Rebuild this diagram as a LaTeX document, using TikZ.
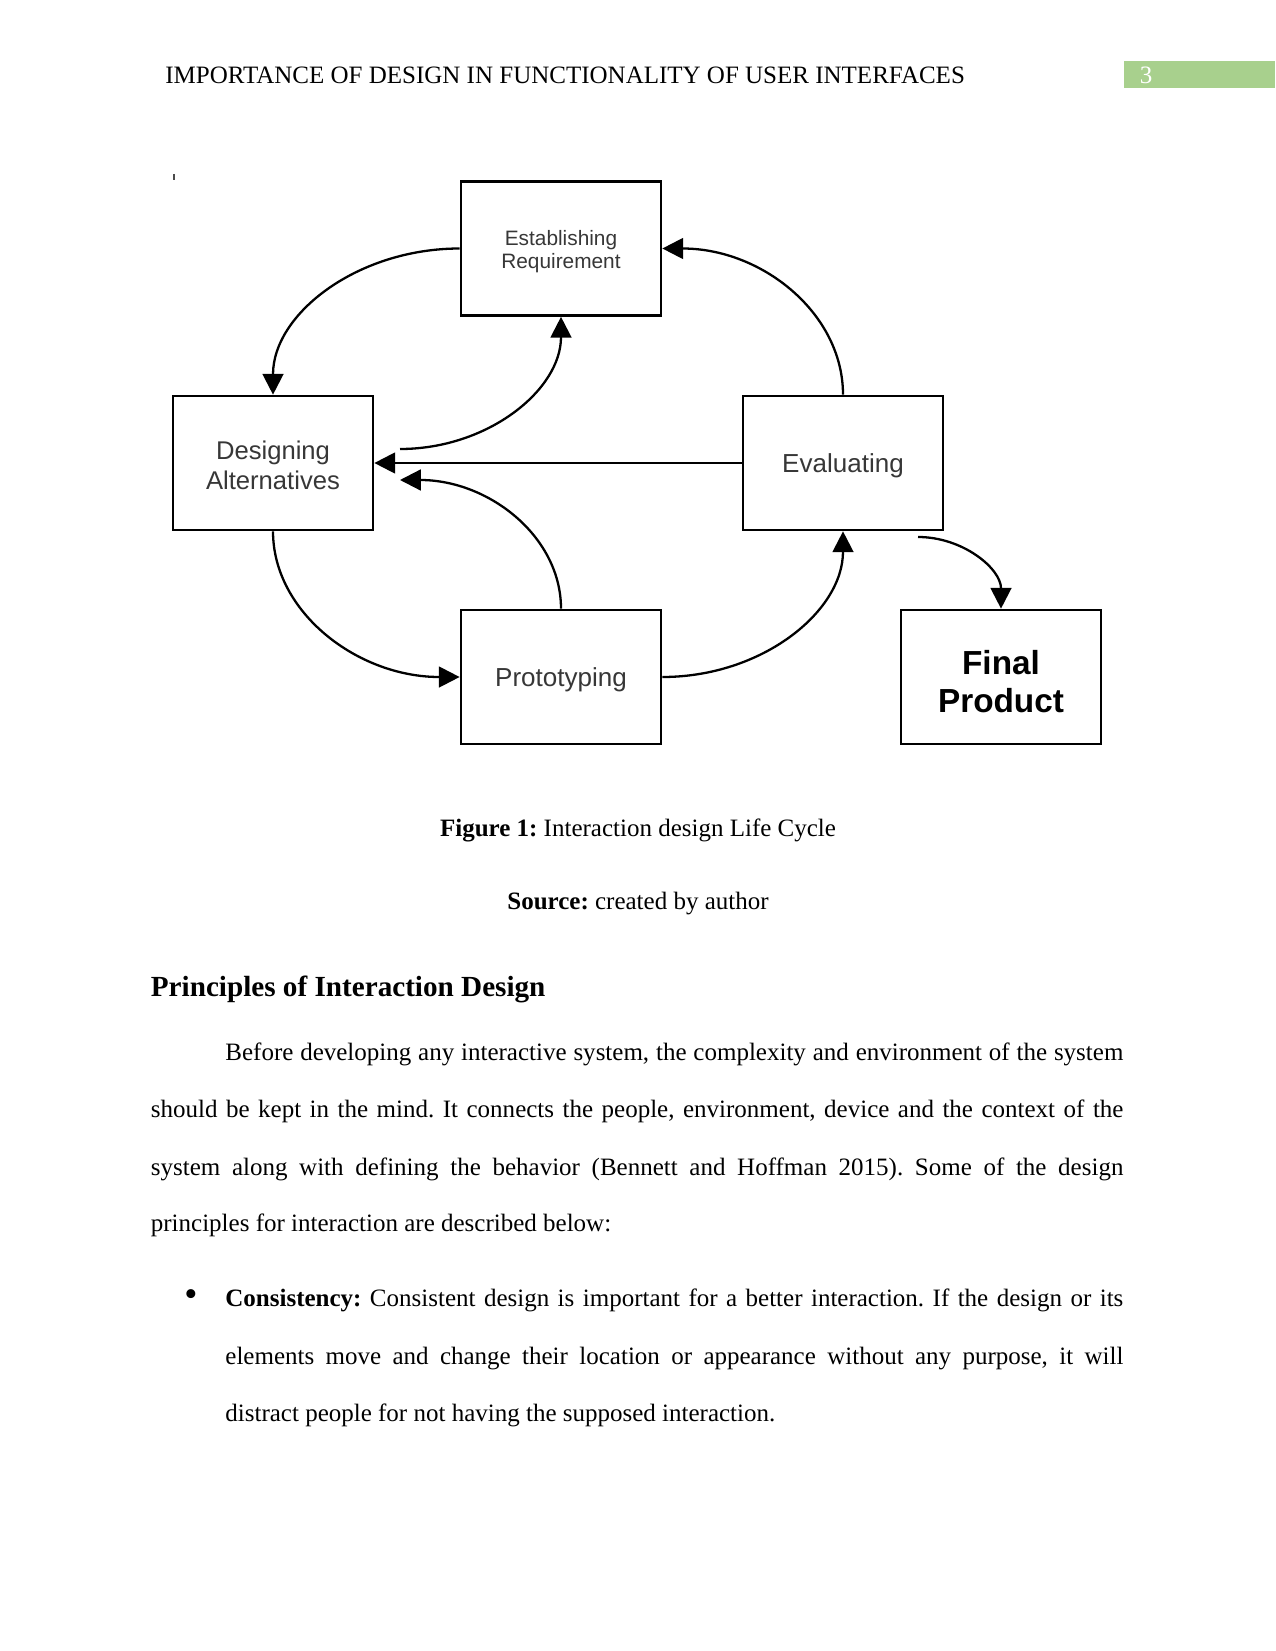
\documentclass[tikz,border=0pt]{standalone}
\usepackage{fontspec}
\setmainfont{Liberation Serif}
\setsansfont{Liberation Sans}
\usetikzlibrary{arrows.meta}
\frenchspacing
\definecolor{hdrgreen}{RGB}{168,208,141}
\definecolor{boxtext}{RGB}{55,55,55}
\newcommand{\liftline}[1]{\rule{0pt}{#1}}
\tikzset{
  stagebox/.style={draw=black,line width=1.3pt,minimum width=96pt,minimum height=64.3pt,inner sep=0pt,align=center,font=\sffamily,text=boxtext},
  flow/.style={line width=1.1pt,-{Triangle[length=10pt,width=10pt]}},
  txt/.style={anchor=base west,inner sep=0pt,font=\fontsize{12pt}{14pt}\selectfont},
  ctxt/.style={anchor=base,inner sep=0pt,font=\fontsize{12pt}{14pt}\selectfont}
}
\begin{document}
\begin{tikzpicture}[x=0.48pt,y=-0.48pt]
\useasboundingbox (0,0) rectangle (1275,1651);
% header
\node[txt] (hdr) at (165,84) {IMPORTANCE OF DESIGN IN FUNCTIONALITY OF USER INTERFACES};
\fill[hdrgreen] (1124,61) rectangle (1275,88);
\node[ctxt,text=white] (pg) at (1146,84) {3};
% tiny mark
\draw[line width=0.7pt,black!70] (174,174) -- (174,180);
% boxes
\node[stagebox,font=\sffamily\fontsize{10pt}{11pt}\selectfont] (est) at (561,248.5) {\liftline{10.5pt}Establishing\\Requirement};
\node[stagebox,font=\sffamily\fontsize{12.3pt}{14.4pt}\selectfont] (des) at (273,463) {\liftline{11.5pt}Designing\\Alternatives};
\node[stagebox,font=\sffamily\fontsize{12.5pt}{14.4pt}\selectfont] (eva) at (843,463) {\liftline{12pt}Evaluating};
\node[stagebox,font=\sffamily\fontsize{12.5pt}{14.4pt}\selectfont] (pro) at (561,677) {\liftline{12pt}Prototyping};
\node[stagebox,text=black,font=\sffamily\bfseries\fontsize{16pt}{18.7pt}\selectfont] (fin) at (1001,677) {\liftline{16pt}Final\\Product};
% free ends
\coordinate (c2) at (400,449);
\coordinate (c4) at (400,480);
\coordinate (c8) at (918,537);
% connectors
\draw[flow] (est.west) .. controls +(-102,0) and +(0,-81) .. (des.north);
\draw[flow] (c2) .. controls +(88,0) and +(0,73) .. (est.south);
\draw[flow] (eva.west) -- (des.east);
\draw[flow] (pro.north) .. controls +(0,-72) and +(89,0) .. (c4);
\draw[flow] (eva.north) .. controls +(0,-81) and +(100,0) .. (est.east);
\draw[flow] (des.south) .. controls +(0,81) and +(-102,0) .. (pro.west);
\draw[flow] (pro.east) .. controls +(100,0) and +(0,80) .. (eva.south);
\draw[flow] (c8) .. controls +(45,0) and +(0,-40) .. (fin.north);
% captions
\node[ctxt] (cap) at (638,836) {\textbf{Figure 1:} Interaction design Life Cycle};
\node[ctxt] (src) at (638,909) {\textbf{Source:} created by author};
\node[txt,font=\bfseries\fontsize{14pt}{16pt}\selectfont] (head) at (150.5,996) {Principles of Interaction Design};
% paragraph
\node[txt] (p1) at (225,1060) {\makebox[431pt][s]{Before developing any interactive system, the complexity and environment of the system}};
\node[txt] (p2) at (150.5,1117) {\makebox[466.8pt][s]{should be kept in the mind. It connects the people, environment, device and the context of the}};
\node[txt] (p3) at (150.5,1175) {\makebox[466.8pt][s]{system along with defining the behavior (Bennett and Hoffman 2015). Some of the design}};
\node[txt] (p4) at (150.5,1231) {principles for interaction are described below:};
% bullet
\node[ctxt] (bul) at (191,1306) {\scalebox{1.5}{\textbullet}};
\node[txt] (b1) at (225,1306) {\makebox[431pt][s]{\textbf{Consistency:} Consistent design is important for a better interaction. If the design or its}};
\node[txt] (b2) at (225,1364) {\makebox[431pt][s]{elements move and change their location or appearance without any purpose, it will}};
\node[txt] (b3) at (225,1421) {distract people for not having the supposed interaction.};
\end{tikzpicture}
\end{document}
